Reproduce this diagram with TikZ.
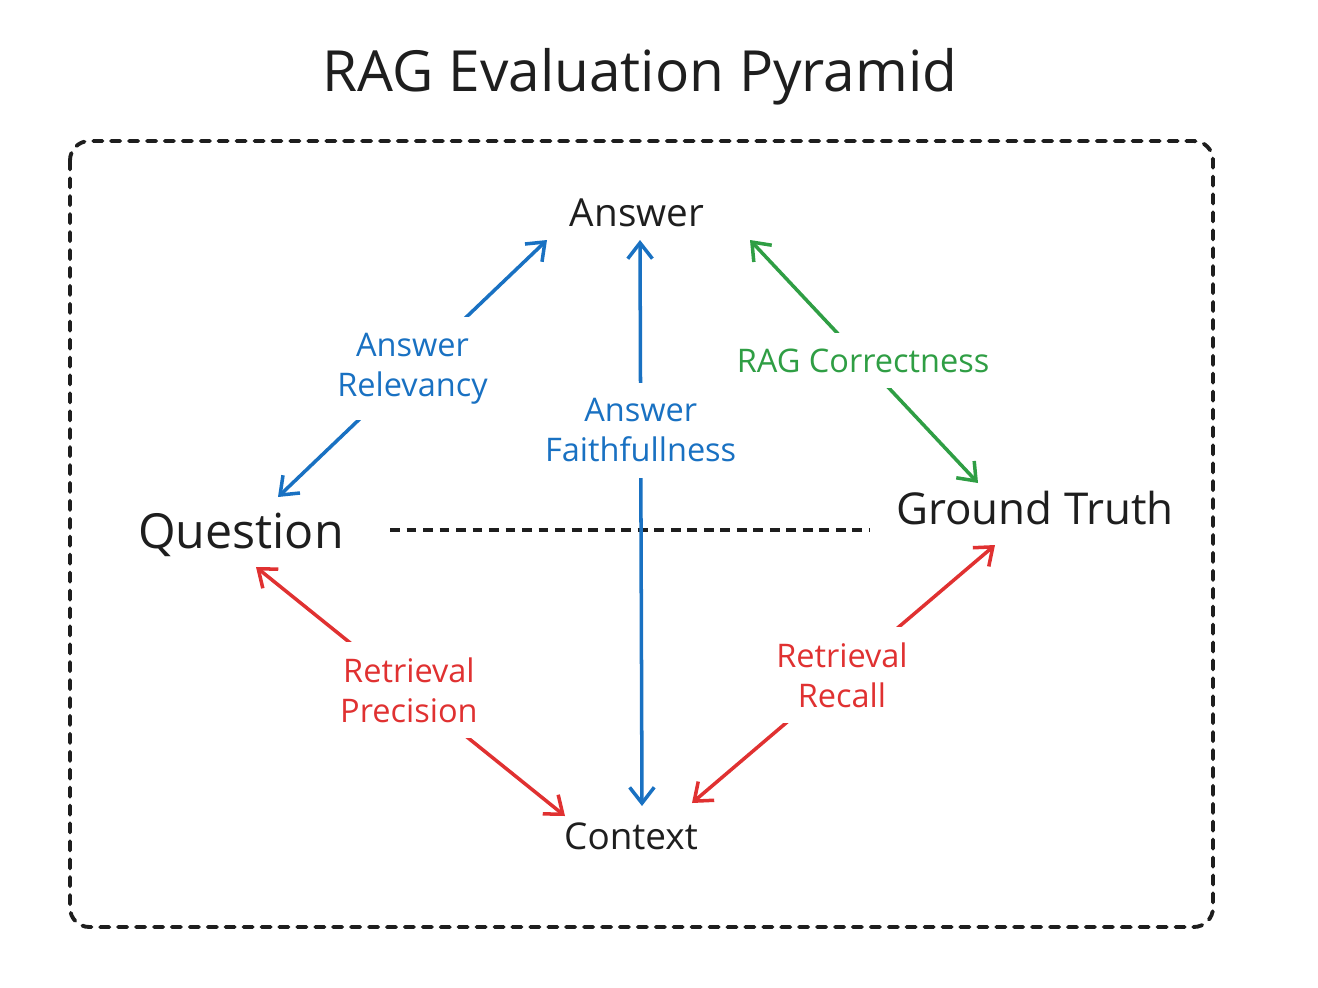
\documentclass[tikz,border=0pt]{standalone}
\usepackage{fontspec}
\setmainfont{Open Sans}
\usetikzlibrary{arrows.meta,calc}
\definecolor{inkblack}{HTML}{1E1E1E}
\definecolor{inkblue}{HTML}{1971C2}
\definecolor{inkgreen}{HTML}{2F9E44}
\definecolor{inkred}{HTML}{E03131}
\tikzset{
  term/.style={text=inkblack, inner sep=0pt, anchor=center},
  lbl/.style={fill=white, align=center, inner sep=9pt, font=\fontsize{18.5}{22.5}\selectfont},
  link/.style={line width=2pt, line cap=round, {Straight Barb[length=9pt,width=14pt,line width=2pt]}-{Straight Barb[length=9pt,width=14pt,line width=2pt]}},
  frame/.style={draw=inkblack, line width=2.2pt, line cap=round, dash pattern=on 5.2pt off 5pt, rounded corners=11pt},
  midline/.style={draw=inkblack, line width=1.8pt, dash pattern=on 5.6pt off 3.8pt}
}
\begin{document}
\begin{tikzpicture}[x=0.02cm,y=-0.02cm]
\useasboundingbox (0,0) rectangle (1318,987);
\node[term, font=\fontsize{32.3}{38}\selectfont] (title) at (640,77) {RAG Evaluation Pyramid};
\draw[frame] (70,141) rectangle (1213,927);
\node[term, font=\fontsize{22}{26}\selectfont] (answer) at (637,213) {Answer};
\node[term, font=\fontsize{27.5}{32}\selectfont] (question) at (241,535) {Question};
\node[term, font=\fontsize{25}{30}\selectfont] (truth) at (1035,508) {Ground Truth};
\node[term, font=\fontsize{21}{25}\selectfont] (context) at (631,836) {Context};
\draw[midline] ($(question)+(149,-5)$) -- ($(truth)+(-165,22)$);
\draw[link, inkblue] ($(answer)+(-90,27)$) -- node[lbl, text=inkblue, pos=0.5] (lrel) {Answer\\Relevancy} ($(question)+(37,-38)$);
\draw[link, inkblue] ($(answer)+(3,27)$) -- node[lbl, text=inkblue, pos=0.336] (lfaith) {Answer\\Faithfullness} ($(context)+(11,-30)$);
\draw[link, inkgreen] ($(answer)+(113,27)$) -- node[lbl, text=inkgreen, pos=0.496] (lcorr) {RAG Correctness} ($(truth)+(-57,-25)$);
\draw[link, inkred] ($(question)+(15,32)$) -- node[lbl, text=inkred, pos=0.495] (lprec) {Retrieval\\Precision} ($(context)+(-66,-20)$);
\draw[link, inkred] ($(truth)+(-40,37)$) -- node[lbl, text=inkred, pos=0.505] (lrec) {Retrieval\\Recall} ($(context)+(61,-33)$);
\end{tikzpicture}
\end{document}
